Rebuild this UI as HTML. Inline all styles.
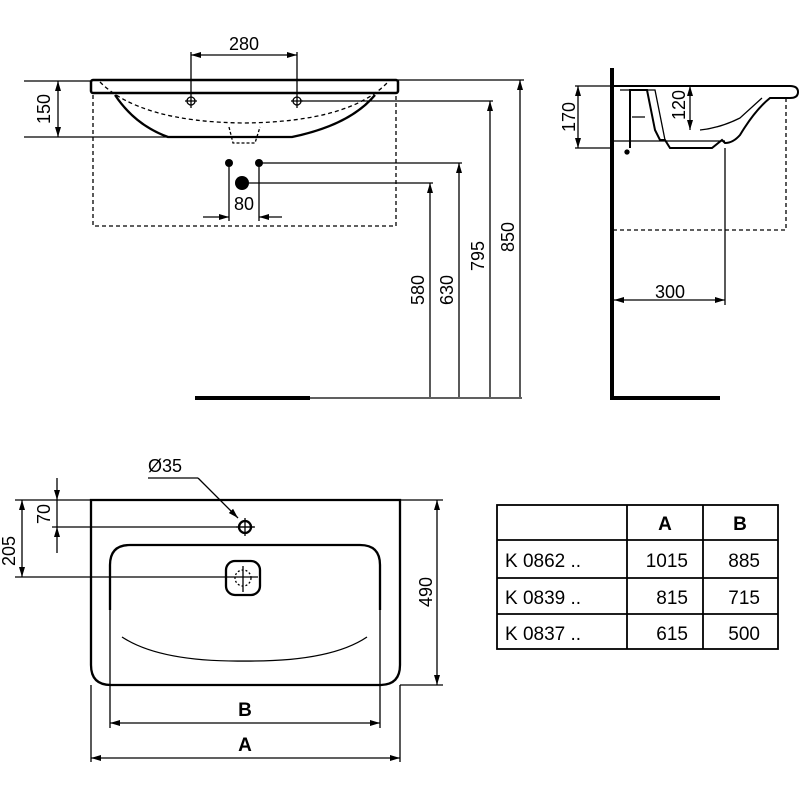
<!DOCTYPE html>
<html><head><style>body{margin:0;background:#fff}svg{display:block}text{font-family:"Liberation Sans",sans-serif;fill:#000}</style></head><body>
<svg width="800" height="800" viewBox="0 0 800 800" xmlns="http://www.w3.org/2000/svg">
<defs><marker id="a" viewBox="0 0 10 10" refX="10" refY="5" markerWidth="10" markerHeight="10" orient="auto-start-reverse" markerUnits="userSpaceOnUse"><path d="M0,2 L10,5 L0,8 z" fill="#000"/></marker></defs>
<g stroke="#000" fill="none" stroke-width="1.3">
<rect x="91" y="80" width="307" height="13" rx="2" stroke-width="2.5"/>
<path d="M115,95 Q135,125 168,137 L292,137 Q350,125 375,95" stroke-width="2.3"/>
<path d="M100,82 Q140,122 244,123 Q350,122 388,82" stroke-dasharray="4,3"/>
<path d="M93,95 V226 H396 V95" stroke-dasharray="4,3"/>
<path d="M229,127 L233,143 H255 L260,127" stroke-dasharray="3,2"/>
<circle cx="191" cy="101" r="4"/><circle cx="297" cy="101" r="4"/>
<path d="M185,101h12M291,101h12"/>
<path d="M191,52V108M297,52V108"/>
<line x1="191" y1="55" x2="297" y2="55" marker-start="url(#a)" marker-end="url(#a)"/>
<path d="M24,81H92M24,137H168"/>
<line x1="58" y1="81" x2="58" y2="137" marker-start="url(#a)" marker-end="url(#a)"/>
<path d="M229,163V221M259,163V221"/>
<line x1="203" y1="217" x2="229" y2="217" marker-end="url(#a)"/>
<line x1="282" y1="217" x2="259" y2="217" marker-end="url(#a)"/>
<path d="M259,163H462M242,183H433M300,101H493M398,80H524"/>
<line x1="430" y1="397" x2="430" y2="183" marker-end="url(#a)"/>
<line x1="459" y1="397" x2="459" y2="163" marker-end="url(#a)"/>
<line x1="490" y1="397" x2="490" y2="101" marker-end="url(#a)"/>
<line x1="520" y1="397" x2="520" y2="80" marker-end="url(#a)"/>
<path d="M310,398H522"/>
<path d="M195,398H310" stroke-width="4"/>
<path d="M612,68V398H720" stroke-width="4"/>
<path d="M612,86H790" stroke-width="2"/>
<path d="M790,86 Q798,86 798,92 Q798,98 790,98 L770,98 Q755,110 740,135 Q733,143 725,143 L722,140 L712,148 H670 L665,140 L660,140 L655,130 L647,90 H630 V148" stroke-width="2"/>
<path d="M620,90H655L660,115L665,140M632,117H645"/>
<path d="M700,130 Q720,128 740,118 L762,98"/>
<path d="M575,86H612M575,148H612M612,141H725"/>
<line x1="578" y1="86" x2="578" y2="148" marker-start="url(#a)" marker-end="url(#a)"/>
<line x1="690" y1="86" x2="690" y2="130" marker-start="url(#a)" marker-end="url(#a)"/>
<circle cx="627" cy="152" r="2" fill="#000"/>
<path d="M786,98V230H614" stroke-dasharray="4,3"/>
<path d="M725,148V305"/>
<line x1="614" y1="300" x2="725" y2="300" marker-start="url(#a)" marker-end="url(#a)"/>
<path d="M91,500H400V665Q400,685 380,685H111Q91,685 91,665Z" stroke-width="2.3"/>
<path d="M110,610V565Q110,545 130,545H360Q380,545 380,565V610" stroke-width="2.3"/>
<path d="M110,610V728M380,610V728M91,685V762M400,685V762"/>
<path d="M122,637Q160,662 244,661Q330,662 367,637"/>
<circle cx="245" cy="527" r="6" stroke-width="2.3"/>
<path d="M236,527h18M245,518v18"/>
<rect x="226" y="561" width="34" height="34" rx="9" stroke-width="2.3"/>
<circle cx="243" cy="578" r="8" stroke-dasharray="2,2"/>
<path d="M243,566v26M15,577H258M52,527H255M15,500H91M400,500H443M400,685H443"/>
<line x1="57" y1="478" x2="57" y2="500" marker-end="url(#a)"/>
<line x1="57" y1="553" x2="57" y2="527" marker-end="url(#a)"/>
<path d="M57,500V527"/>
<line x1="22" y1="500" x2="22" y2="577" marker-start="url(#a)" marker-end="url(#a)"/>
<line x1="437" y1="500" x2="437" y2="685" marker-start="url(#a)" marker-end="url(#a)"/>
<line x1="110" y1="723" x2="380" y2="723" marker-start="url(#a)" marker-end="url(#a)"/>
<line x1="91" y1="758" x2="400" y2="758" marker-start="url(#a)" marker-end="url(#a)"/>
<path d="M148,478H198"/>
<line x1="198" y1="478" x2="238" y2="518" marker-end="url(#a)"/>
<rect x="497" y="505" width="281" height="144" stroke-width="1.8"/>
<path d="M497,540H778M497,578H778M497,614H778M627,505V649M703,505V649" stroke-width="1.8"/>
</g>
<circle cx="229" cy="163" r="4"/><circle cx="259" cy="163" r="4"/><circle cx="242" cy="183" r="7"/>
<g font-size="18">
<text x="244" y="50" text-anchor="middle">280</text>
<text x="244" y="210" text-anchor="middle">80</text>
<text transform="translate(50,109) rotate(-90)" text-anchor="middle">150</text>
<text transform="translate(424,290) rotate(-90)" text-anchor="middle">580</text>
<text transform="translate(453,290) rotate(-90)" text-anchor="middle">630</text>
<text transform="translate(484,256) rotate(-90)" text-anchor="middle">795</text>
<text transform="translate(514,237) rotate(-90)" text-anchor="middle">850</text>
<text transform="translate(575,117) rotate(-90)" text-anchor="middle">170</text>
<text transform="translate(685,105) rotate(-90)" text-anchor="middle">120</text>
<text x="670" y="298" text-anchor="middle">300</text>
<text x="165" y="472" text-anchor="middle">Ø35</text>
<text transform="translate(50,514) rotate(-90)" text-anchor="middle">70</text>
<text transform="translate(15,551) rotate(-90)" text-anchor="middle">205</text>
<text transform="translate(432,592) rotate(-90)" text-anchor="middle">490</text>
<text x="245" y="716" text-anchor="middle" font-weight="bold" font-size="19">B</text>
<text x="245" y="751" text-anchor="middle" font-weight="bold" font-size="19">A</text>
<text x="665" y="530" text-anchor="middle" font-weight="bold" font-size="19">A</text>
<text x="740" y="530" text-anchor="middle" font-weight="bold" font-size="19">B</text>
<g font-size="19">
<text x="505" y="567">K 0862 ..</text><text x="688" y="567" text-anchor="end">1015</text><text x="760" y="567" text-anchor="end">885</text>
<text x="505" y="604">K 0839 ..</text><text x="688" y="604" text-anchor="end">815</text><text x="760" y="604" text-anchor="end">715</text>
<text x="505" y="640">K 0837 ..</text><text x="688" y="640" text-anchor="end">615</text><text x="760" y="640" text-anchor="end">500</text>
</g>
</g>
</svg>
</body></html>
